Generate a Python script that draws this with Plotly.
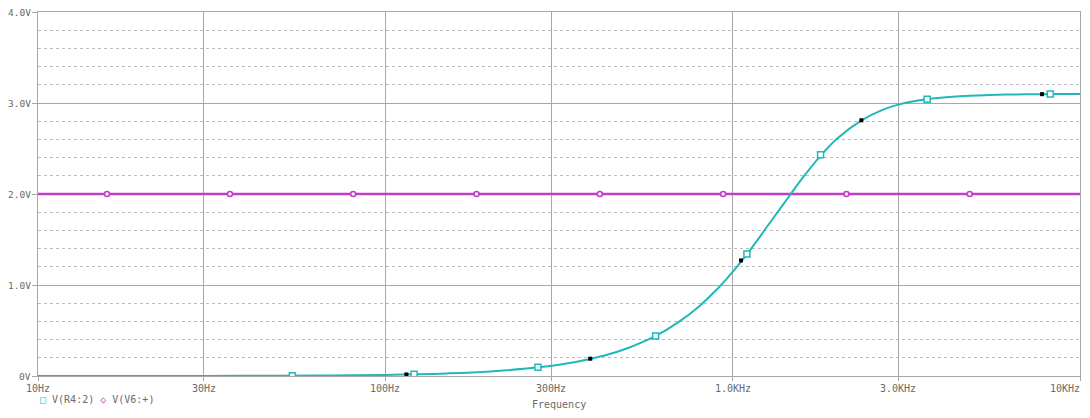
import math
import plotly.graph_objects as go

# Curve V(R4:2)
freq = [10, 20, 30, 50, 70, 100, 120, 150, 200, 275, 350, 430, 500, 600, 700, 800,
        900, 1000, 1100, 1200, 1300, 1470, 1600, 1800, 2000, 2350, 2700, 3000, 3600,
        4500, 5500, 7000, 8200, 10000]
v_r4 = [0.0, 0.0005, 0.001, 0.003, 0.006, 0.012, 0.018, 0.028, 0.05, 0.095, 0.152, 0.228,
        0.308, 0.44, 0.595, 0.765, 0.95, 1.145, 1.34, 1.535, 1.72, 2.0, 2.19, 2.43, 2.61,
        2.81, 2.925, 2.982, 3.04, 3.075, 3.088, 3.096, 3.098, 3.1]

# Marker positions on V(R4:2)
mk_f = [54, 121, 275, 600, 1099, 1791, 3630, 8210]
mk_v = [0.004, 0.018, 0.095, 0.44, 1.34, 2.43, 3.04, 3.098]

# Black data dots
dot_f = [115, 389, 1057, 2347, 7775]
dot_v = [0.017, 0.19, 1.27, 2.81, 3.097]

# V(V6:+) constant 2.0 V
v6_f = [10, 10000]
v6_v = [2.0, 2.0]
v6_mk_f = [15.8, 35.7, 80.8, 183, 414.5, 939, 2126, 4814]
v6_mk_v = [2.0] * 8

xt_vals = [10, 30, 100, 300, 1000, 3000, 10000]
xt_text = ["10Hz", "30Hz", "100Hz", "300Hz", "1.0KHz", "3.0KHz", "10KHz"]
yt_vals = [0, 1, 2, 3, 4]
yt_text = ["0V", "1.0V", "2.0V", "3.0V", "4.0V"]

CYAN = "#22b8b8"
MAG = "#c23ec6"
GRID = "#a8a8a8"
TXT = "#6a6a6a"
FONT = "DejaVu Sans Mono"

fig = go.Figure()
fig.add_trace(go.Scatter(x=v6_f, y=v6_v, mode="lines", line=dict(color=MAG, width=2.5),
                         showlegend=False, hoverinfo="skip"))
fig.add_trace(go.Scatter(x=v6_mk_f, y=v6_mk_v, mode="markers",
                         marker=dict(symbol="circle", size=5, color="white",
                                     line=dict(color=MAG, width=1.6)),
                         showlegend=False))
fig.add_trace(go.Scatter(x=freq, y=v_r4, mode="lines", line=dict(color=CYAN, width=2, shape="spline"),
                         showlegend=False, hoverinfo="skip"))
fig.add_trace(go.Scatter(x=dot_f, y=dot_v, mode="markers",
                         marker=dict(symbol="square", size=4, color="black"),
                         showlegend=False))
fig.add_trace(go.Scatter(x=mk_f, y=mk_v, mode="markers",
                         marker=dict(symbol="square", size=6, color="white",
                                     line=dict(color=CYAN, width=1.5)),
                         showlegend=False))

# page body has an 8px margin: figure sized so the page does not overflow the window
fig.update_layout(
    width=1074, height=402,
    margin=dict(l=30, r=2, t=4, b=34),
    paper_bgcolor="white", plot_bgcolor="white",
    font=dict(family=FONT, size=10, color=TXT),
    xaxis=dict(type="log", range=[1, 4], tickvals=xt_vals, showticklabels=False,
               automargin=False,
               showgrid=True, gridcolor=GRID, gridwidth=1,
               showline=True, linecolor=GRID, linewidth=1, mirror=True,
               ticks="outside", ticklen=4, tickcolor=GRID,
               zeroline=False),
    yaxis=dict(range=[0, 4], tickvals=yt_vals, showticklabels=False, automargin=False,
               showgrid=True, gridcolor=GRID, gridwidth=1,
               showline=True, linecolor=GRID, linewidth=1, mirror=True,
               ticks="outside", ticklen=5, tickcolor=GRID, zeroline=False,
               minor=dict(dtick=0.2, showgrid=True, gridcolor="#bcbcbc", griddash="dot",
                          gridwidth=1, ticks="")),
)

# Y tick labels as annotations
for v, t in zip(yt_vals, yt_text):
    fig.add_annotation(xref="paper", yref="y", x=0, y=v, xanchor="right", yanchor="middle",
                       xshift=-5, text=t, showarrow=False,
                       font=dict(family=FONT, size=9.5, color=TXT))

# X tick labels as annotations (last one kept inside the page)
for i, (v, t) in enumerate(zip(xt_vals, xt_text)):
    last = i == len(xt_vals) - 1
    fig.add_annotation(xref="x", yref="paper", x=math.log10(v), y=0, yshift=-12,
                       xanchor="right" if last else "center", yanchor="middle",
                       xshift=2 if last else 0,
                       text=t, showarrow=False, font=dict(family=FONT, size=10, color=TXT))

# Axis title
fig.add_annotation(xref="paper", yref="paper", x=0.5, y=0, yshift=-28, xanchor="center", yanchor="middle",
                   text="Frequency", showarrow=False, font=dict(family=FONT, size=10, color=TXT))

# Legend drawn as text
fig.add_annotation(xref="paper", yref="paper", x=0.0, y=0, yshift=-23, xanchor="left", yanchor="middle",
                   text="<span style='color:%s'>□</span> V(R4:2) <span style='color:%s'>◇</span> V(V6:+)" % (CYAN, MAG),
                   showarrow=False, font=dict(family=FONT, size=10, color=TXT))

fig.write_html("out.html")
